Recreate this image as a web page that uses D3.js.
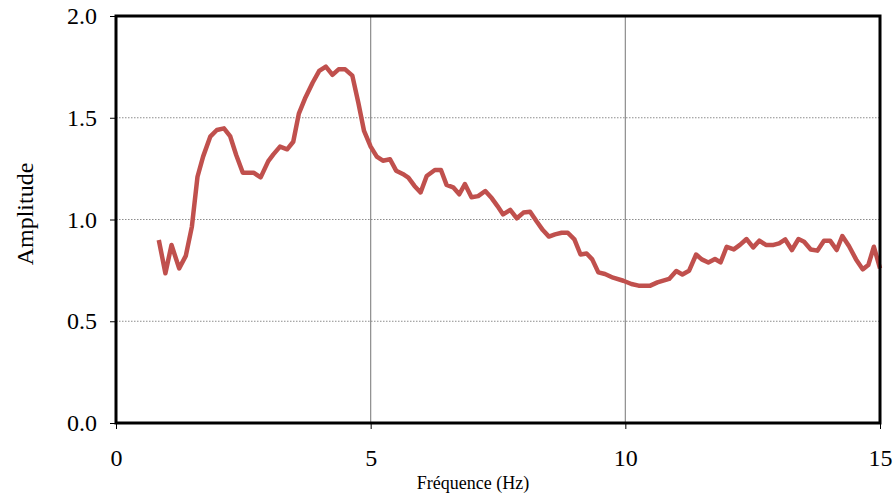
<!DOCTYPE html>
<html>
<head>
<meta charset="utf-8">
<script src="https://cdn.jsdelivr.net/npm/d3@7"></script>
<style>
  html, body { margin: 0; padding: 0; background: #fff; }
  svg { display: block; }
  text { font-family: "Liberation Serif", "Times New Roman", serif; fill: #000; }
</style>
</head>
<body>
<svg id="chart" width="895" height="495"></svg>
<script>
// Spectral ratio: frequency (Hz) and amplitude
const frequency = [
  0.84, 0.97, 1.09, 1.24, 1.37, 1.49, 1.60, 1.71, 1.85, 1.98,
  2.12, 2.24, 2.36, 2.49, 2.70, 2.84, 2.99, 3.09, 3.22, 3.36,
  3.48, 3.59, 3.72, 3.86, 3.99, 4.12, 4.25, 4.37, 4.50, 4.64,
  4.76, 4.87, 5.00, 5.12, 5.24, 5.38, 5.50, 5.63, 5.74, 5.86,
  5.98, 6.10, 6.26, 6.38, 6.49, 6.62, 6.74, 6.85, 6.98, 7.11,
  7.25, 7.38, 7.49, 7.60, 7.74, 7.87, 8.00, 8.13, 8.26, 8.38,
  8.50, 8.62, 8.75, 8.87, 9.00, 9.12, 9.24, 9.35, 9.47, 9.60,
  9.76, 9.96, 10.12, 10.26, 10.49, 10.63, 10.86, 11.00, 11.12, 11.25,
  11.39, 11.50, 11.63, 11.76, 11.87, 11.99, 12.13, 12.25, 12.38, 12.51,
  12.63, 12.76, 12.91, 13.02, 13.14, 13.27, 13.40, 13.51, 13.64, 13.77,
  13.90, 14.02, 14.15, 14.26, 14.39, 14.53, 14.66, 14.77, 14.88, 15.00
];
const amplitude = [
  0.899, 0.736, 0.875, 0.760, 0.821, 0.965, 1.210, 1.309, 1.407, 1.440,
  1.448, 1.410, 1.317, 1.230, 1.230, 1.207, 1.287, 1.320, 1.358, 1.345,
  1.382, 1.520, 1.600, 1.672, 1.730, 1.751, 1.711, 1.738, 1.738, 1.707,
  1.571, 1.435, 1.358, 1.309, 1.289, 1.296, 1.240, 1.224, 1.206, 1.165,
  1.133, 1.214, 1.243, 1.243, 1.170, 1.158, 1.124, 1.174, 1.109, 1.115,
  1.140, 1.104, 1.066, 1.025, 1.047, 1.006, 1.034, 1.038, 0.990, 0.948,
  0.916, 0.927, 0.935, 0.935, 0.902, 0.828, 0.833, 0.804, 0.740, 0.732,
  0.714, 0.699, 0.683, 0.675, 0.675, 0.691, 0.708, 0.747, 0.730, 0.748,
  0.828, 0.804, 0.789, 0.806, 0.789, 0.866, 0.853, 0.875, 0.904, 0.863,
  0.896, 0.875, 0.875, 0.883, 0.902, 0.850, 0.904, 0.891, 0.853, 0.847,
  0.896, 0.896, 0.850, 0.919, 0.870, 0.804, 0.755, 0.776, 0.866, 0.760
];
const xTicks = [0, 5, 10, 15];
const yTicks = [0.0, 0.5, 1.0, 1.5, 2.0];
const xGridValues = [5, 10];
const yGridValues = [0.5, 1.0, 1.5];
const xTitle = "Fréquence (Hz)";
const yTitle = "Amplitude";

const svg = d3.select("#chart");
const margin = { left: 116, right: 15, top: 16, bottom: 72 };
const W = 895, H = 495;

const x = d3.scaleLinear().domain([0, 15]).range([margin.left, W - margin.right]);
const y = d3.scaleLinear().domain([0, 2]).range([H - margin.bottom, margin.top]);

// Gridlines
svg.append("g").selectAll("line").data(yGridValues).join("line")
  .attr("x1", x(0)).attr("x2", x(15))
  .attr("y1", d => y(d)).attr("y2", d => y(d))
  .attr("stroke", "#8c8c8c").attr("stroke-width", 1)
  .attr("stroke-dasharray", "1.5,1.5");
svg.append("g").selectAll("line").data(xGridValues).join("line")
  .attr("x1", d => x(d)).attr("x2", d => x(d))
  .attr("y1", y(0)).attr("y2", y(2))
  .attr("stroke", "#8c8c8c").attr("stroke-width", 1.2);

// Data line
const line = d3.line().x((d, i) => x(frequency[i])).y(d => y(d));
svg.append("path")
  .datum(amplitude)
  .attr("d", line)
  .attr("fill", "none")
  .attr("stroke", "#C0504D")
  .attr("stroke-width", 4.5)
  .attr("stroke-linejoin", "round")
  .attr("stroke-linecap", "butt");

// Plot frame
svg.append("rect")
  .attr("x", x(0)).attr("y", y(2))
  .attr("width", x(15) - x(0)).attr("height", y(0) - y(2))
  .attr("fill", "none").attr("stroke", "#000").attr("stroke-width", 3);

// Axes
const xAxis = d3.axisBottom(x).tickValues(xTicks).tickFormat(d3.format("d"))
  .tickSizeInner(6).tickSizeOuter(0).tickPadding(20);
const gx = svg.append("g").attr("transform", `translate(0,${y(0)})`).call(xAxis);
gx.select(".domain").remove();
gx.selectAll(".tick line").attr("stroke", "#000").attr("stroke-width", 1);
gx.selectAll(".tick text").style("font-size", "24px").attr("font-family", null);

const yAxis = d3.axisLeft(y).tickValues(yTicks).tickFormat(d3.format(".1f"))
  .tickSizeInner(6).tickSizeOuter(0).tickPadding(13);
const gy = svg.append("g").attr("transform", `translate(${x(0)},0)`).call(yAxis);
gy.select(".domain").remove();
gy.selectAll(".tick line").attr("stroke", "#000").attr("stroke-width", 1);
gy.selectAll(".tick text").style("font-size", "24px").attr("font-family", null);

// Axis titles
svg.append("text")
  .attr("x", 473).attr("y", 489)
  .attr("text-anchor", "middle")
  .style("font-size", "18px")
  .text(xTitle);
svg.append("text")
  .attr("transform", `translate(33,214) rotate(-90)`)
  .attr("text-anchor", "middle")
  .style("font-size", "24px")
  .text(yTitle);
</script>
</body>
</html>
